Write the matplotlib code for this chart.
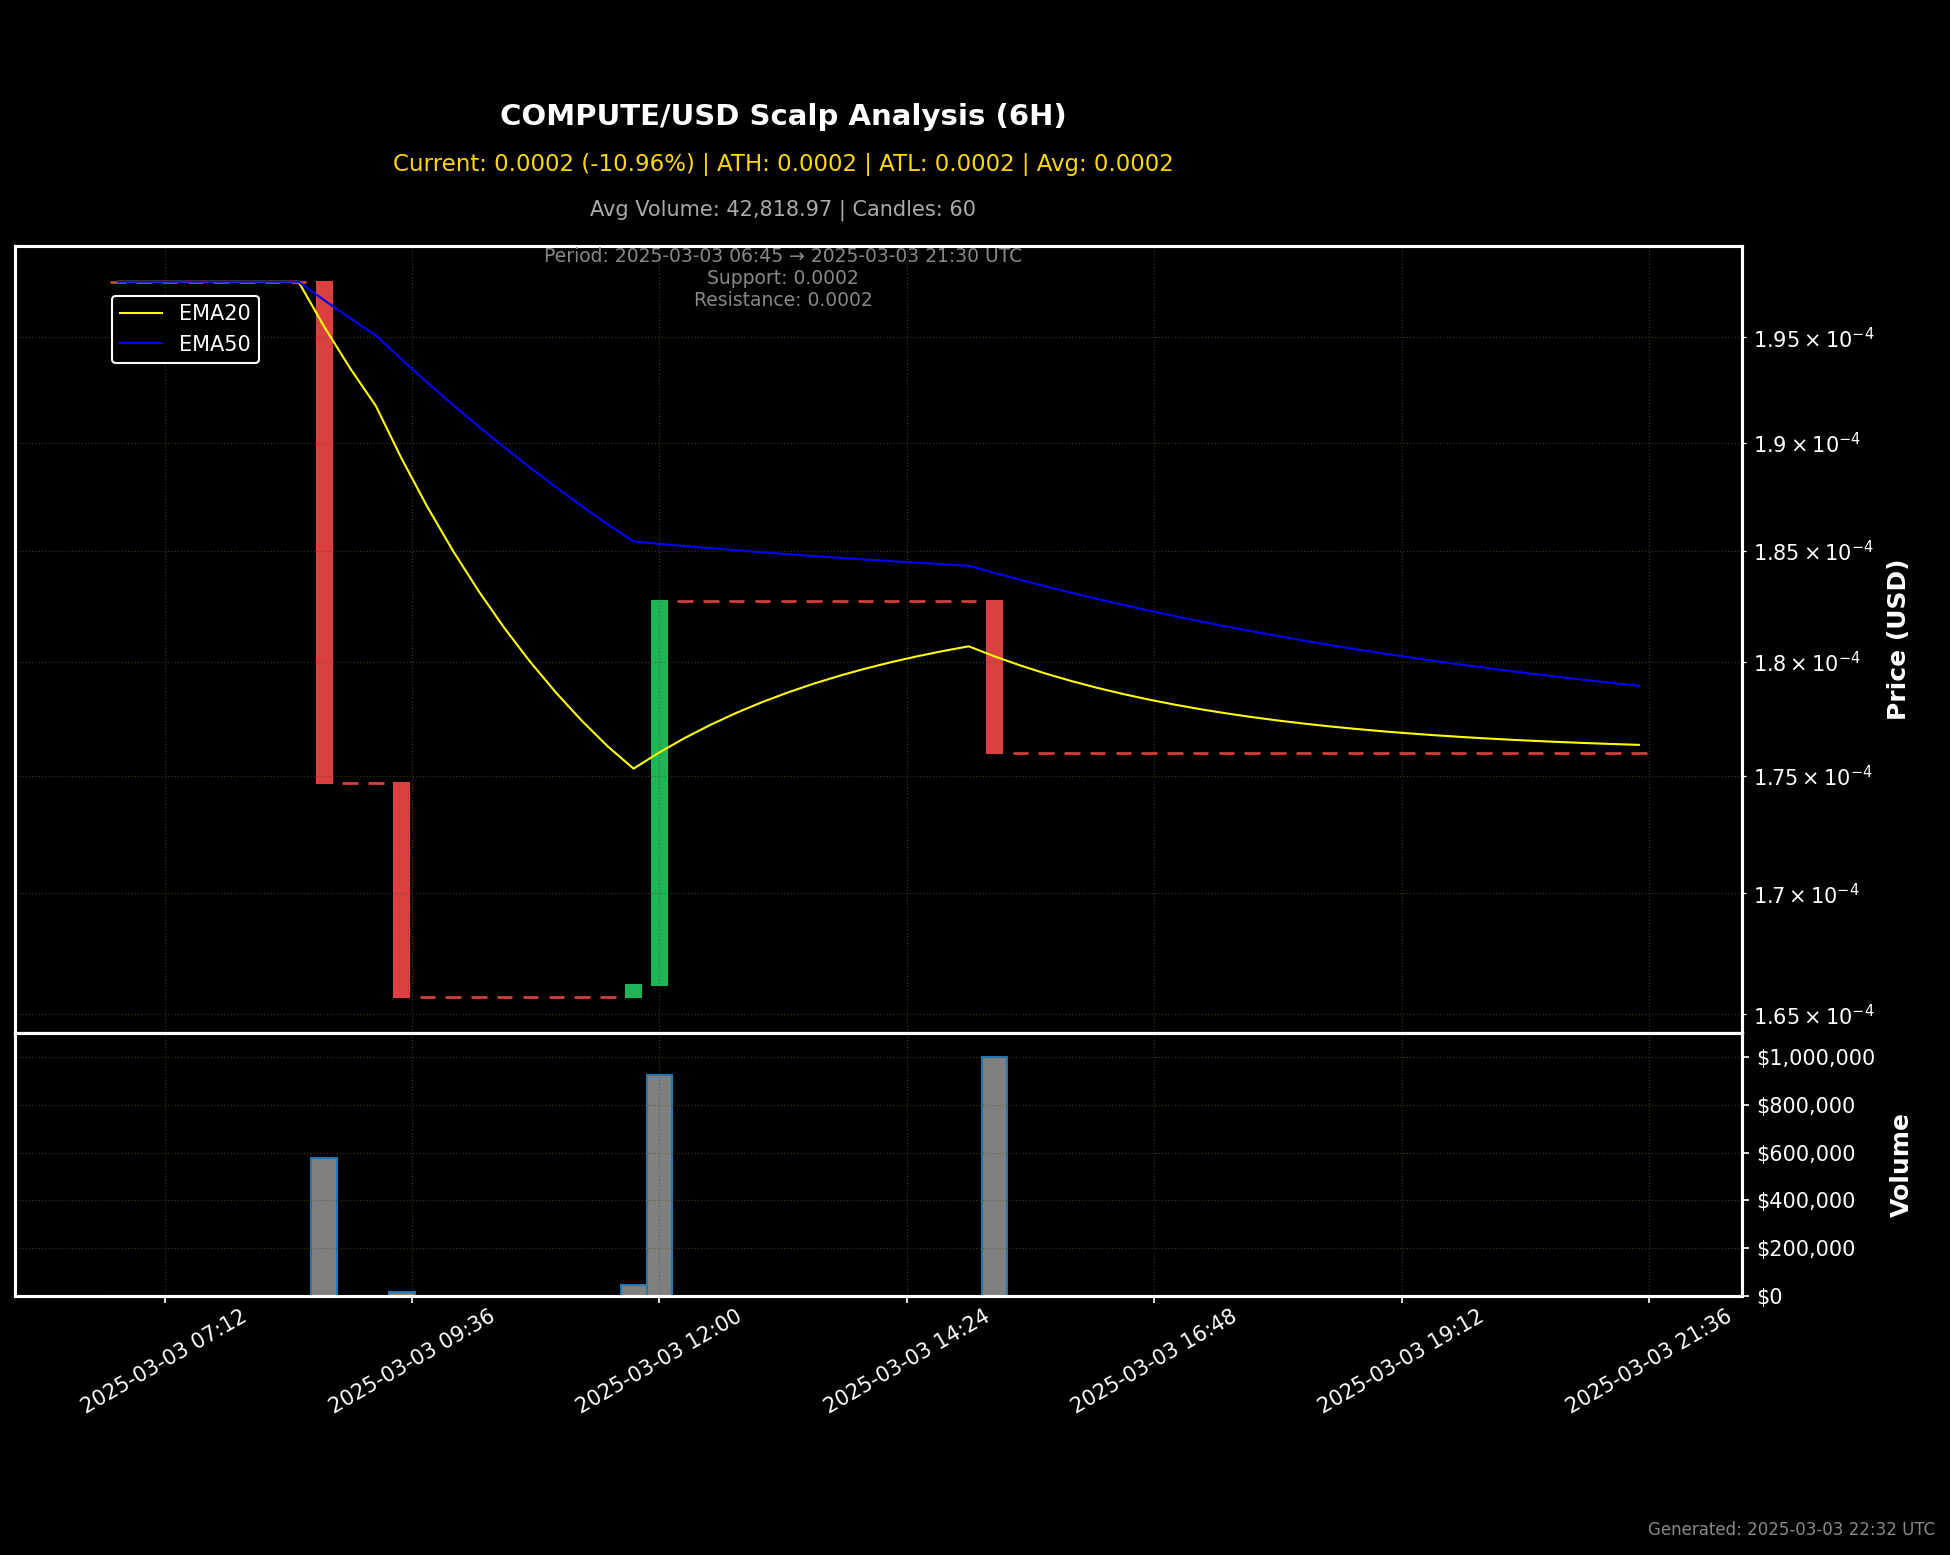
import matplotlib
matplotlib.use("Agg")
import matplotlib.pyplot as plt
import matplotlib.dates as mdates
import matplotlib.ticker as mticker
import pandas as pd
import numpy as np

# candle data (15 min candles, prices in USD)
times = pd.date_range("2025-03-03 06:45", "2025-03-03 21:30", freq="15min")

opens = ([1.977e-4] * 9 + [1.747e-4] * 3 + [1.657e-4] * 9 + [1.662e-4]
         + [1.827e-4] * 13 + [1.760e-4] * 25)
closes = ([1.977e-4] * 8 + [1.747e-4] * 3 + [1.657e-4] * 9 + [1.662e-4]
          + [1.827e-4] * 13 + [1.760e-4] * 26)

# volume, only five candles actually traded
volumes = [0] * 60
volumes[8] = 580000     # 08:45
volumes[11] = 18500     # 09:30
volumes[20] = 44000     # 11:45
volumes[21] = 925000    # 12:00
volumes[34] = 1001600   # 15:15

title = "COMPUTE/USD Scalp Analysis (6H)"
subtitle = "Current: 0.0002 (-10.96%) | ATH: 0.0002 | ATL: 0.0002 | Avg: 0.0002"
subtitle2 = "Avg Volume: 42,818.97 | Candles: 60"
info = "Period: 2025-03-03 06:45 \u2192 2025-03-03 21:30 UTC\nSupport: 0.0002\nResistance: 0.0002"
generated = "Generated: 2025-03-03 22:32 UTC"

df = pd.DataFrame({"open": opens, "close": closes, "volume": volumes}, index=times)
df["ema20"] = df["close"].ewm(span=20, adjust=False).mean()
df["ema50"] = df["close"].ewm(span=50, adjust=False).mean()

plt.style.use("dark_background")
fig = plt.figure(figsize=(13, 10.3667), dpi=150)
fig.patch.set_facecolor("black")

ax = fig.add_axes([0.0077, 0.3357, 0.8856, 0.5061])
axv = fig.add_axes([0.0077, 0.1666, 0.8856, 0.1691], sharex=ax)
ax.use_sticky_edges = False

x = mdates.date2num(df.index.to_pydatetime())
step = 15 / (24 * 60)
w = step * 0.6

red = "#da4040"
green = "#1fb455"
grid_col = "#5a5428"

for xi, o, c in zip(x, df["open"], df["close"]):
    col = green if c > o else red
    if o == c:
        ax.hlines(o, xi - w / 2, xi + w / 2, colors=col, linewidth=1.3)
    else:
        ax.bar(xi, abs(c - o), bottom=min(o, c), width=w, color=col,
               edgecolor=col, linewidth=1)

ax.plot(x, df["ema20"], color="yellow", linewidth=1, label="EMA20")
ax.plot(x, df["ema50"], color="blue", linewidth=1, label="EMA50")

ax.set_yscale("log")
ax.set_facecolor("black")
ax.yaxis.tick_right()
ax.yaxis.set_label_position("right")
ax.set_ylabel("Price (USD)", fontsize=12, fontweight="bold", labelpad=6)
ax.tick_params(axis="y", labelsize=10, colors="white", which="both")
ax.tick_params(axis="x", labelbottom=False)
ax.grid(True, which="both", color=grid_col, linestyle=":", linewidth=0.6, alpha=0.6)
for s in ax.spines.values():
    s.set_color("white")
    s.set_linewidth(1.5)

leg = ax.legend(loc="upper left", bbox_to_anchor=(0.0562, 0.9365), borderaxespad=0,
                fontsize=10, facecolor="black", edgecolor="white", framealpha=1)

axv.bar(x, df["volume"], width=step, color="gray", edgecolor="#1f77b4", linewidth=1)
axv.set_ylim(0, max(volumes) * 1.1)
axv.set_facecolor("black")
axv.yaxis.tick_right()
axv.yaxis.set_label_position("right")
axv.set_ylabel("Volume", fontsize=12, fontweight="bold", labelpad=7)
axv.yaxis.set_major_formatter(mticker.FuncFormatter(lambda v, p: f"${v:,.0f}"))
axv.tick_params(axis="both", labelsize=10, colors="white")
axv.tick_params(axis="x", pad=1.5)
axv.grid(True, color=grid_col, linestyle=":", linewidth=0.6, alpha=0.6)
for s in axv.spines.values():
    s.set_color("white")
    s.set_linewidth(1.5)

ax.set_xlim(x[0] - 1 / 24, x[-1] + 1 / 24)
axv.xaxis.set_major_formatter(mdates.DateFormatter("%Y-%m-%d %H:%M"))
plt.setp(axv.get_xticklabels(), rotation=30, ha="center")

cx = 0.4015
fig.text(cx, 0.9248, title, ha="center", va="center", fontsize=14,
         fontweight="bold", color="white")
fig.text(cx, 0.8945, subtitle, ha="center", va="center", fontsize=11, color="#FFD700")
fig.text(cx, 0.865, subtitle2, ha="center", va="center", fontsize=10, color="#AAAAAA")
fig.text(cx, 0.8206, info, ha="center", va="center", fontsize=9, color="#888888")
fig.text(0.9923, 0.016, generated, ha="right", va="center", fontsize=8, color="#888888")

fig.savefig("out.png", dpi=150, facecolor="black")
